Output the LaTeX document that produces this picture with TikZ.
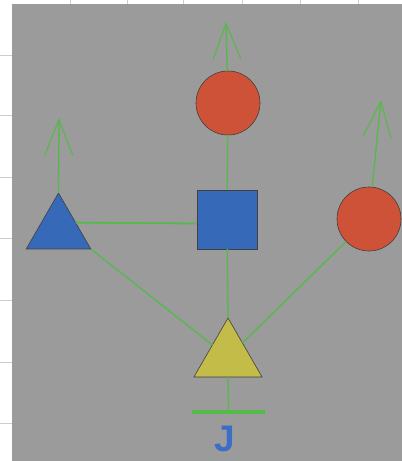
\documentclass[tikz,border=0pt]{standalone}
\usepackage{fontspec}
\setmainfont{Liberation Sans}
\usetikzlibrary{shapes.geometric,arrows.meta,calc}
\definecolor{bggray}{RGB}{155,155,155}
\definecolor{gridgray}{RGB}{205,205,205}
\definecolor{shred}{RGB}{205,82,56}
\definecolor{shblue}{RGB}{55,105,185}
\definecolor{shyellow}{RGB}{195,188,72}
\definecolor{lngreen}{RGB}{85,185,75}
\definecolor{jblue}{RGB}{60,110,200}
\tikzset{
  outl/.style={draw=black!75, line width=0.6pt, inner sep=0pt, outer sep=0pt},
  redball/.style={outl, circle, fill=shred, minimum size=64pt},
  bluesq/.style={outl, rectangle, fill=shblue, minimum width=60pt, minimum height=59pt},
  tri/.style={outl, regular polygon, regular polygon sides=3},
  link/.style={draw=lngreen, line width=1.3pt},
  outarrow/.style={link, -{Straight Barb[length=36pt, width=28pt, line width=1.1pt]}},
}
\begin{document}
\begin{tikzpicture}[x=1pt, y=-1pt]
\useasboundingbox (0,0) rectangle (402,461);
% paper and grey panel
\fill[white] (0,0) rectangle (402,461);
\foreach \yy in {55,115,177,238,300,362,423}
  \draw[gridgray, line width=1pt] (0,\yy) -- (12,\yy);
\foreach \xx in {70,127,183,242,300,358}
  \draw[gridgray, line width=1pt] (\xx,0) -- (\xx,4);
\fill[bggray] (12,4) rectangle (402,461);

% shapes
\node[redball] (tc) at (228,103) {};
\node[redball] (rc) at (369,219) {};
\node[bluesq] (sq) at (227,219.5) {};
\node[tri, fill=shblue, minimum size=74.6pt] (lt) at (58.5,230.3) {};
\node[tri, fill=shyellow, minimum size=78.6pt] (yt) at (228,357.3) {};
\node[fill=lngreen, inner sep=0pt, minimum width=73pt, minimum height=3.5pt] (gnd) at (228.5,412) {};
\node[text=jblue, font=\bfseries\fontsize{37}{40}\selectfont, inner sep=0pt] (jl) at (225,439) {J};

% arrow ends and link points
\coordinate (la) at (59,118);
\coordinate (ta) at (226,22);
\coordinate (ra) at (381,100);
\coordinate (hs) at ([yshift=-4pt]sq.west);
\coordinate (le) at ($(lt.corner 1)!0.53!(lt.corner 3)$);

% connectors
\draw[link, line width=1.8pt] (hs) -- (le);
\draw[link] (tc) -- (sq);
\draw[link] (sq) -- (yt.corner 1);
\draw[link] (lt.corner 3) -- (yt);
\draw[link] (rc) -- (yt);
\draw[link] (yt.south) -- (gnd.north);

% outgoing arrows
\draw[outarrow] (lt.corner 1) -- (la);
\draw[outarrow] (tc) -- (ta);
\draw[outarrow] (rc) -- (ra);
\end{tikzpicture}
\end{document}
